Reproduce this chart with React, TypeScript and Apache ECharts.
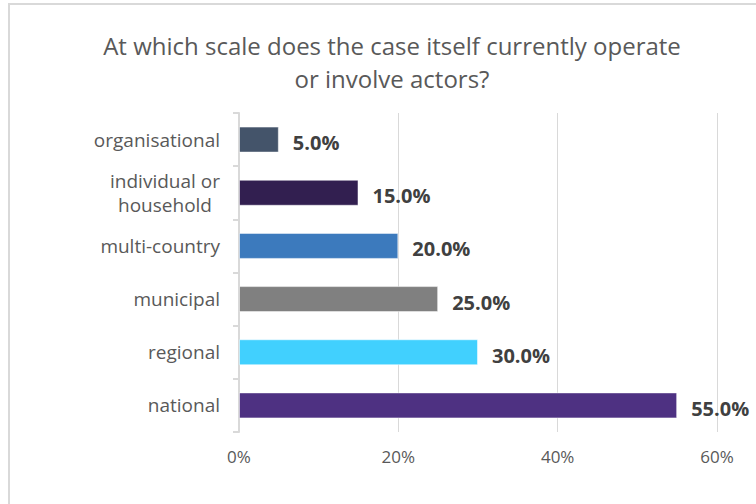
import React, { useEffect, useRef } from "react";
import * as echarts from "echarts";

const categories = [
  "organisational",
  "individual or\nhousehold",
  "multi-country",
  "municipal",
  "regional",
  "national",
];
const values = [5, 15, 20, 25, 30, 55];
const barColors = ["#44546A", "#321F50", "#3C7ABD", "#808080", "#41D0FE", "#4E3182"];
const xTicks = { min: 0, max: 60, interval: 20 };
const titleText = "At which scale does the case itself currently operate\nor involve actors?";

export default function App() {
  const ref = useRef<HTMLDivElement>(null);
  useEffect(() => {
    if (!ref.current) return;
    const chart = echarts.init(ref.current, undefined, { renderer: "svg" });
    const font = "Open Sans";
    chart.setOption({
      animation: false,
      backgroundColor: "#ffffff",
      title: {
        text: titleText,
        left: 387,
        top: 24,
        textAlign: "center",
        textStyle: {
          fontFamily: font,
          fontSize: 24,
          fontWeight: "normal",
          color: "#595959",
          lineHeight: 33,
        },
      },
      graphic: [
        { type: "line", shape: { x1: 8, y1: 4, x2: 756, y2: 4 }, style: { stroke: "#d9d9d9", lineWidth: 2 } },
        { type: "line", shape: { x1: 9, y1: 3, x2: 9, y2: 504 }, style: { stroke: "#d9d9d9", lineWidth: 2 } },
      ],
      grid: { left: 239, right: 39, top: 113, bottom: 72, containLabel: false },
      xAxis: {
        type: "value",
        min: xTicks.min,
        max: xTicks.max,
        interval: xTicks.interval,
        axisLine: { show: false },
        axisTick: { show: false },
        splitLine: { show: true, lineStyle: { color: "#d9d9d9", width: 1 } },
        axisLabel: {
          formatter: "{value}%",
          color: "#595959",
          fontFamily: font,
          fontSize: 17,
          margin: 16,
        },
      },
      yAxis: {
        type: "category",
        inverse: true,
        data: categories,
        axisLine: { show: true, lineStyle: { color: "#d9d9d9", width: 2 } },
        axisTick: { show: true, length: 6, lineStyle: { color: "#d9d9d9", width: 2 } },
        splitLine: { show: false },
        axisLabel: {
          color: "#595959",
          fontFamily: font,
          fontSize: 19,
          lineHeight: 24,
          margin: 19,
          formatter: (v: string) =>
            v.indexOf("\n") >= 0
              ? v.split("\n").map((s) => "{c|" + s + "}").join("\n")
              : v,
          rich: {
            c: {
              width: 110,
              align: "center",
              color: "#595959",
              fontFamily: font,
              fontSize: 19,
              lineHeight: 24,
            },
          },
        },
      },
      series: [
        {
          type: "bar",
          barWidth: 26,
          data: values.map((v, i) => ({
            value: v,
            itemStyle: { color: barColors[i], borderColor: "rgba(255,255,255,0.5)", borderWidth: 1 },
          })),
          label: {
            show: true,
            position: "right",
            distance: 14,
            formatter: (p: any) => Number(p.value).toFixed(1) + "%",
            color: "#404040",
            fontFamily: font,
            fontSize: 20,
            fontWeight: "bold",
            offset: [0, 3],
          },
        },
      ],
    });
    return () => chart.dispose();
  }, []);
  return (
    <div
      ref={ref}
      style={{ position: "fixed", left: 0, top: 0, width: 756, height: 504 }}
    />
  );
}
